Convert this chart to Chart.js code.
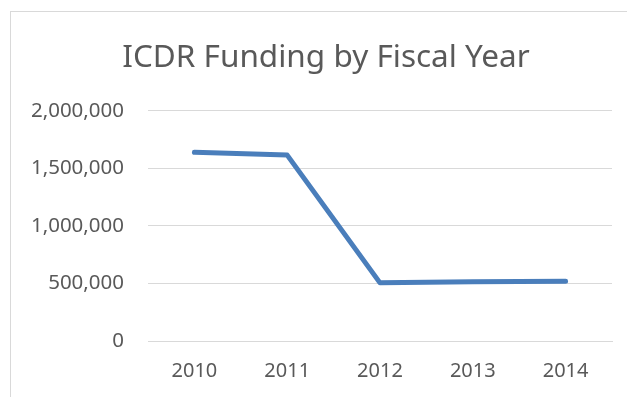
<!DOCTYPE html>
<html>
<head>
<meta charset="utf-8">
<script src="https://cdn.jsdelivr.net/npm/chart.js@4"></script>
<style>
  html, body { margin: 0; padding: 0; background: #fff; overflow: hidden; }
  #box {
    position: absolute; left: 10px; top: 11px;
    width: 630px; height: 400px;
    border-left: 1px solid #d9d9d9; border-top: 1px solid #d9d9d9;
  }
</style>
</head>
<body>
<div id="box"><canvas id="funding-chart" width="630" height="400"></canvas></div>
<script>
// data
const years = ["2010", "2011", "2012", "2013", "2014"];
const funding = [1640000, 1615000, 505000, 515000, 520000];
const yTicks = [0, 500000, 1000000, 1500000, 2000000];

const textColor = "#595959";
const gridColor = "#d9d9d9";
const fontFamily = "'Noto Sans', 'Open Sans', sans-serif";

const fundingCanvas = document.getElementById("funding-chart");

let fundingChart = new Chart(fundingCanvas, {
    type: "line",
    data: {
        labels: years,
        datasets: [{
            data: funding,
            borderColor: "#4a7ebb",
            borderWidth: 5,
            borderCapStyle: "round",
            borderJoinStyle: "round",
            pointRadius: 0,
            tension: 0,
            fill: false
        }]
    },
    options: {
        responsive: false,
        animation: false,
        layout: { padding: { top: 0, right: 0, bottom: 21, left: 0 } },
        plugins: {
            legend: { display: false },
            tooltip: { enabled: false },
            title: {
                display: true,
                text: "ICDR Funding by Fiscal Year",
                color: textColor,
                font: { family: fontFamily, size: 31.5, weight: "normal" },
                padding: { top: 27, bottom: 34 }
            }
        },
        scales: {
            x: {
                offset: true,
                grid: { display: false, drawTicks: false, offset: true },
                border: { display: true, color: gridColor, width: 1 },
                ticks: {
                    color: textColor,
                    font: { family: fontFamily, size: 20 },
                    padding: 18,
                    maxRotation: 0
                },
                afterFit: (scale) => { scale.height = 50; }
            },
            y: {
                min: 0,
                max: 2000000,
                grid: { color: gridColor, lineWidth: 1, drawTicks: false },
                border: { display: false },
                afterBuildTicks: (scale) => {
                    scale.ticks = yTicks.map(v => ({ value: v }));
                },
                ticks: {
                    color: textColor,
                    font: { family: fontFamily, size: 20.5 },
                    padding: 24,
                    callback: (v) => v.toLocaleString("en-US")
                },
                afterFit: (scale) => { scale.width = 137; }
            },
            // empty right-hand axis, only there to leave the right margin
            spacer: {
                position: "right",
                min: 0,
                max: 1,
                grid: { display: false, drawTicks: false },
                border: { display: false },
                ticks: { display: false },
                afterFit: (scale) => { scale.width = 29; }
            }
        }
    }
});
</script>
</body>
</html>
